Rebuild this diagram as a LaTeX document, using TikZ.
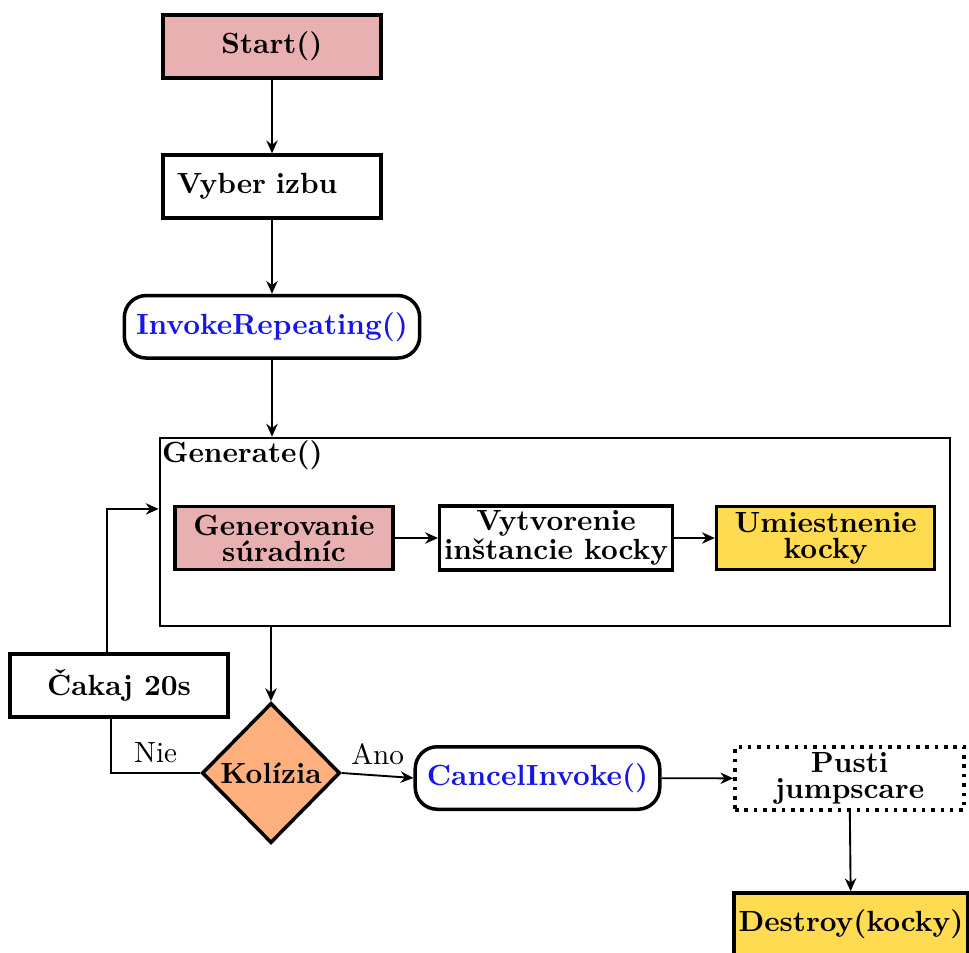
\documentclass[tikz,border=0pt]{standalone}
\usepackage{tikz}
\usetikzlibrary{positioning,shapes.geometric,arrows.meta}
\definecolor{startpink}{RGB}{232,176,176}
\definecolor{kockayellow}{RGB}{255,219,82}
\definecolor{kolorange}{RGB}{253,176,126}
\definecolor{callblue}{RGB}{22,22,232}
\tikzset{
  box/.style={draw, line width=1.2pt, rectangle, minimum width=74.7pt, minimum height=21.6pt,
    align=center, inner sep=1.5pt, font=\fontsize{10pt}{8.9pt}\selectfont\bfseries},
  call/.style={draw, line width=1.2pt, rounded corners=7.5pt, minimum height=21.4pt,
    inner xsep=4pt, text=callblue, font=\bfseries},
  decision/.style={draw, line width=1.2pt, diamond, fill=kolorange, minimum width=47.3pt,
    minimum height=48pt, inner sep=0pt, font=\bfseries},
  arr/.style={-{Stealth[length=4.4pt,width=3.9pt]}, line width=0.65pt},
}
\begin{document}
\begin{tikzpicture}[x=0.3425pt, y=-0.3425pt, node distance=48pt]
    \useasboundingbox (0,0) rectangle (969,952);
    \clip (0,0) rectangle (969,952);
    \node (start) [box, fill=startpink] at (272,46.5) {Start()};
    \node (izba) [box, text width=65.1pt, align=left, below of=start] {Vyber izbu};
    \node (invoke) [call, below of=izba] {InvokeRepeating()};
    \node (gen) [draw, line width=0.9pt, minimum width=270.6pt, minimum height=64.4pt] at (555,532) {};
    \node (genlabel) [anchor=north west, inner sep=1pt, font=\bfseries] at (gen.north west) {Generate()};
    \node (suradnice) [box, fill=startpink] at (284,538) {Generovanie\\súradníc};
    \node (instancia) [box, right of=suradnice, node distance=93.2pt] {Vytvorenie\\inštancie kocky};
    \node (umiestni) [box, fill=kockayellow, right of=instancia, node distance=92.3pt] {Umiestnenie\\kocky};
    \node (kolizia) [decision] at (271,773) {Kolízia};
    \node (cakaj) [box] at (119,685.5) {Čakaj 20s};
    \node (cancel) [call] at (537.5,778) {CancelInvoke()};
    \node (pusti) [box, dotted, minimum width=78.4pt] at (849.5,778.5) {Pusti\\jumpscare};
    \node (destroy) [box, fill=kockayellow] at (851,924.5) {Destroy(kocky)};
    \draw[arr] (start) -- (izba);
    \draw[arr] (izba) -- (invoke);
    \draw[arr] (invoke) -- (invoke |- gen.north);
    \draw[arr] (suradnice) -- (instancia);
    \draw[arr] (instancia) -- (umiestni);
    \draw[arr] (kolizia |- gen.south) -- (kolizia);
    \draw[line width=0.65pt] (kolizia.west) -| node[above, pos=0.25] {Nie} ([xshift=-2.7pt]cakaj.south);
    \draw[arr] ([xshift=-4pt]cakaj.north) |- ([yshift=7.9pt]gen.west);
    \draw[arr] (kolizia.east) -- node[above] {Ano} (cancel.west);
    \draw[arr] (cancel) -- (pusti);
    \draw[arr] (pusti) -- (destroy);
  \end{tikzpicture}
\end{document}
